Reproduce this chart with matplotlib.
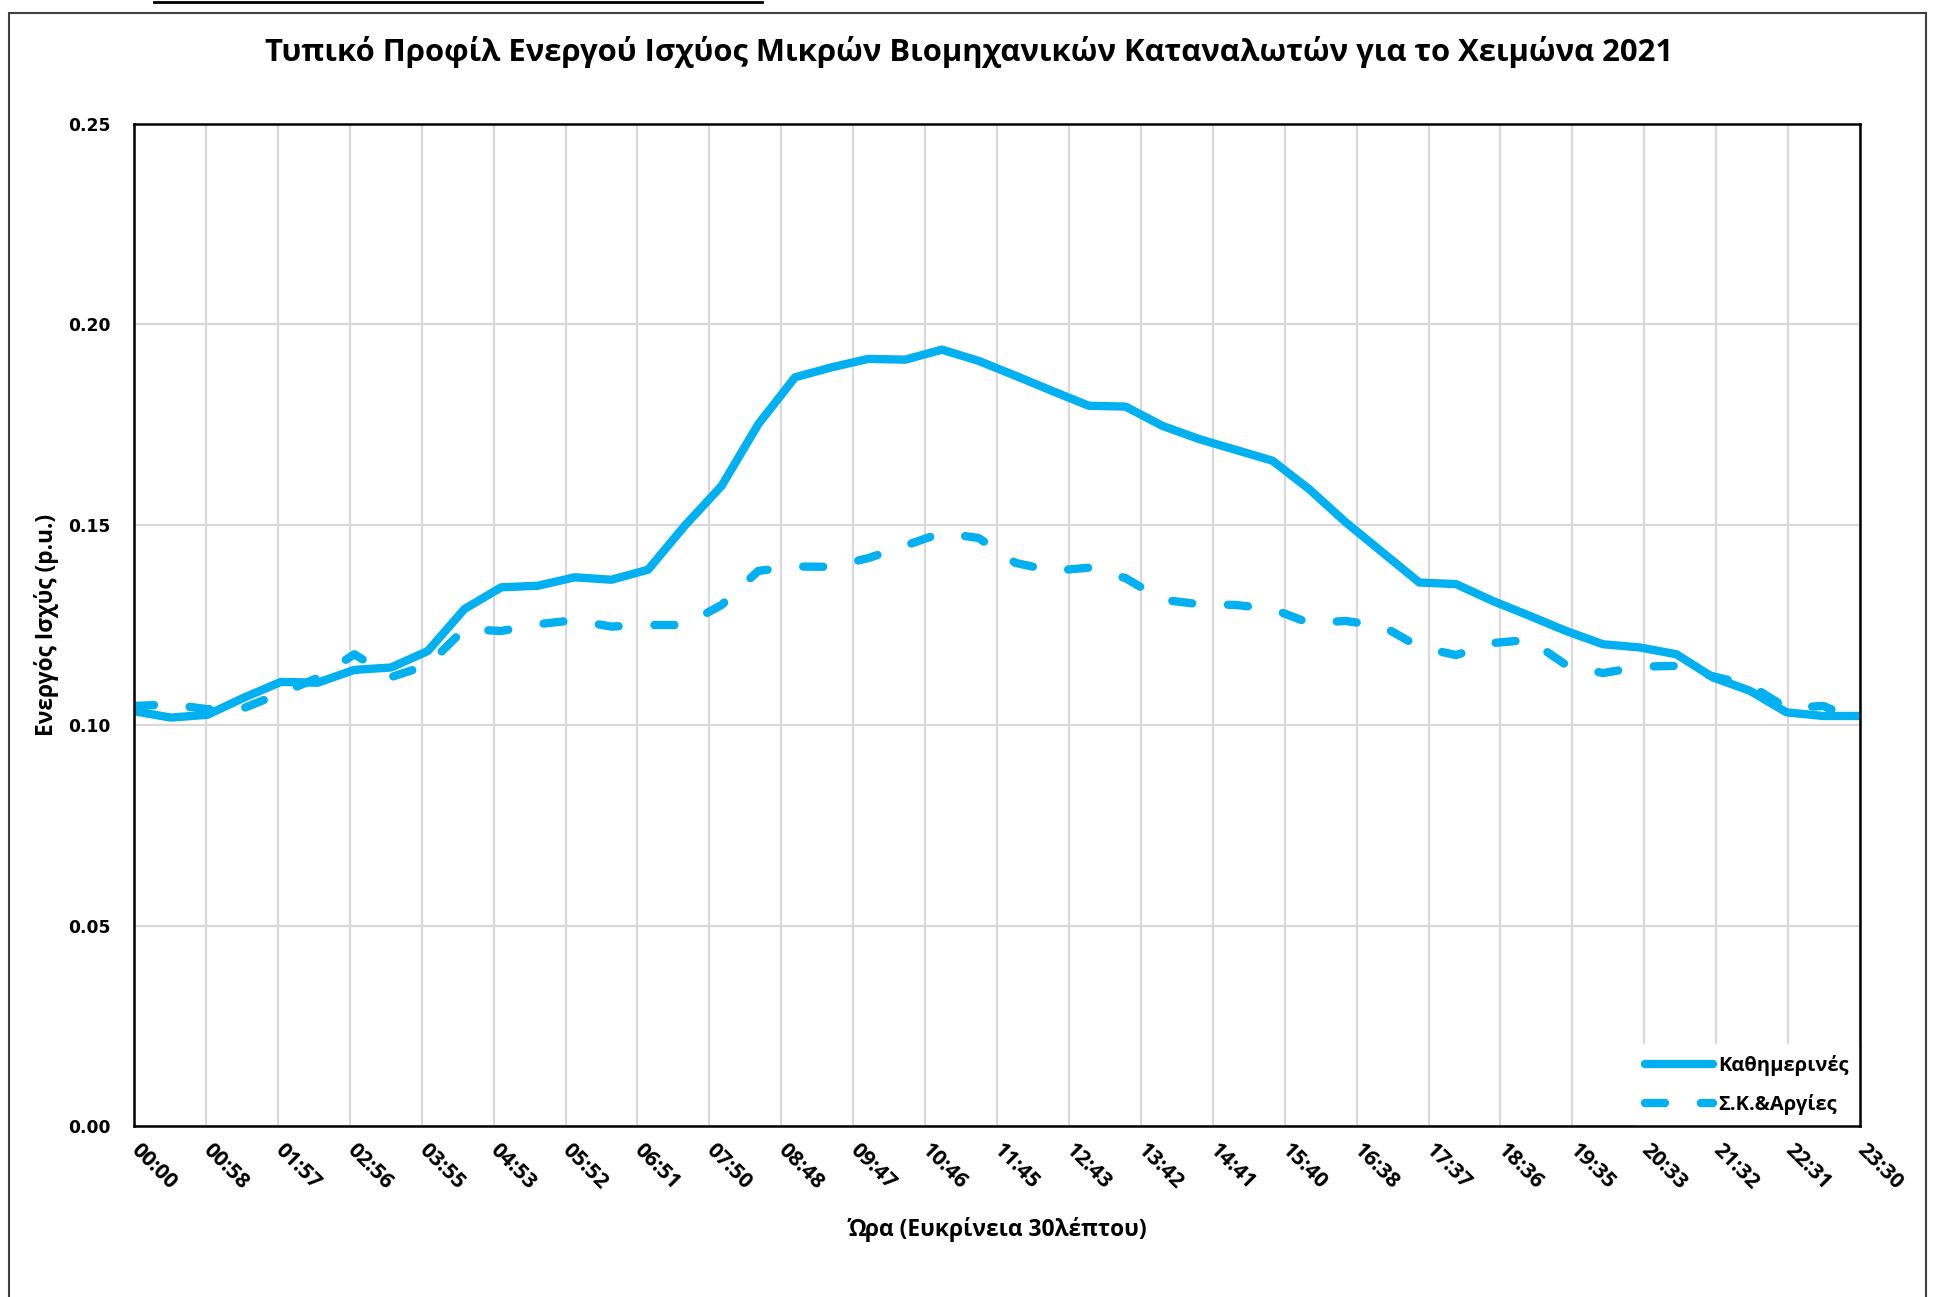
import numpy as np
import matplotlib
matplotlib.use("Agg")
import matplotlib.pyplot as plt
from matplotlib.lines import Line2D
from matplotlib.patches import Rectangle

plt.rcParams['font.family'] = ['Open Sans', 'DejaVu Sans']

# ---- data ----
hours = [i * 0.5 for i in range(48)]  # 00:00 ... 23:30 half-hour steps

weekday = [0.1035, 0.1019, 0.1026, 0.1069, 0.1108, 0.1106, 0.1138, 0.1144, 0.1185, 0.1290,
           0.1344, 0.1348, 0.1369, 0.1363, 0.1388, 0.1498, 0.1597, 0.1751, 0.1868, 0.1893,
           0.1914, 0.1912, 0.1937, 0.1909, 0.1872, 0.1834, 0.1797, 0.1795, 0.1747, 0.1714,
           0.1687, 0.1660, 0.1589, 0.1506, 0.1431, 0.1356, 0.1352, 0.1310, 0.1273, 0.1235,
           0.1202, 0.1194, 0.1177, 0.1119, 0.1086, 0.1032, 0.1023, 0.1023]

weekend = [0.1048, 0.1052, 0.1040, 0.1043, 0.1080, 0.1118, 0.1177, 0.1120, 0.1150, 0.1240,
           0.1235, 0.1252, 0.1262, 0.1246, 0.1250, 0.1250, 0.1300, 0.1385, 0.1396, 0.1395,
           0.1417, 0.1448, 0.1480, 0.1467, 0.1405, 0.1385, 0.1393, 0.1367, 0.1313, 0.1302,
           0.1300, 0.1290, 0.1255, 0.1260, 0.1247, 0.1195, 0.1175, 0.1205, 0.1213, 0.1150,
           0.1130, 0.1146, 0.1148, 0.1122, 0.1100, 0.1043, 0.1048, 0.1010]

tick_labels = ["00:00", "00:58", "01:57", "02:56", "03:55", "04:53", "05:52", "06:51",
               "07:50", "08:48", "09:47", "10:46", "11:45", "12:43", "13:42", "14:41",
               "15:40", "16:38", "17:37", "18:36", "19:35", "20:33", "21:32", "22:31", "23:30"]
y_ticks = [0.00, 0.05, 0.10, 0.15, 0.20, 0.25]

series_names = ["Καθημερινές", "Σ.Κ.&Αργίες"]
title = "Τυπικό Προφίλ Ενεργού Ισχύος Μικρών Βιομηχανικών Καταναλωτών για το Χειμώνα 2021"
xlabel = "Ώρα (Ευκρίνεια 30λέπτου)"
ylabel = "Ενεργός Ισχύς (p.u.)"

# ---- figure ----
W, H = 1936, 1297
fig = plt.figure(figsize=(W / 100, H / 100), dpi=100)
ax = fig.add_axes([134 / W, 1 - 1126 / H, (1860 - 134) / W, (1126 - 124) / H])

color = '#00B0F0'
ax.plot(hours, weekday, color=color, lw=6.0, solid_capstyle='round',
        solid_joinstyle='round', label=series_names[0], zorder=3)
ax.plot(hours, weekend, color=color, lw=6.0, linestyle=(0, (2.4, 4.3)),
        dash_capstyle='round', dash_joinstyle='round', label=series_names[1], zorder=3)

ax.set_xlim(0, 23.5)
ax.set_ylim(0, 0.25)
xt = np.linspace(0, 23.5, len(tick_labels))
ax.set_xticks(xt)
ax.set_xticklabels(tick_labels, rotation=-45, rotation_mode='anchor', ha='left', va='center',
                   fontsize=15.5, fontweight='bold')
ax.set_yticks(y_ticks)
ax.set_yticklabels([f"{v:.2f}" for v in y_ticks], fontsize=12.3, fontweight='bold',
                   family='DejaVu Sans')
ax.tick_params(axis='both', length=0)
ax.tick_params(axis='x', pad=15)
ax.tick_params(axis='y', pad=17)

ax.grid(True, color='#D9D9D9', lw=1.6, zorder=0)
ax.set_axisbelow(True)
for s in ax.spines.values():
    s.set_linewidth(1.8)
    s.set_color('black')
    s.set_zorder(6)

leg = ax.legend(loc='lower right', bbox_to_anchor=(1.0, 0.0), borderaxespad=0.0,
                frameon=True, fancybox=False, facecolor='white', edgecolor='none',
                framealpha=1.0, prop={'weight': 'bold', 'size': 14.5},
                handlelength=3.4, handletextpad=0.25, labelspacing=0.9,
                borderpad=0.55)
leg.set_zorder(5)

fig.text(969 / W, 1 - 52 / H, title, ha='center', va='center', fontsize=22.3, fontweight='bold')
fig.text(997 / W, 1 - 1229 / H, xlabel, ha='center', va='center', fontsize=16.4, fontweight='bold')
fig.text(47 / W, 1 - 625 / H, ylabel, ha='center', va='center', rotation=90,
         fontsize=16.4, fontweight='bold')

# outer chart frame
fig.patches.append(Rectangle((9 / W, -0.02), (1926 - 9) / W, 1.02 - 13 / H,
                             transform=fig.transFigure, fill=False, edgecolor='#404040',
                             lw=1.5, zorder=0))
fig.lines.append(Line2D([154 / W, 762 / W], [1 - 1.5 / H, 1 - 1.5 / H],
                        transform=fig.transFigure, color='black', lw=2.0))

fig.savefig("out.png", dpi=100)
